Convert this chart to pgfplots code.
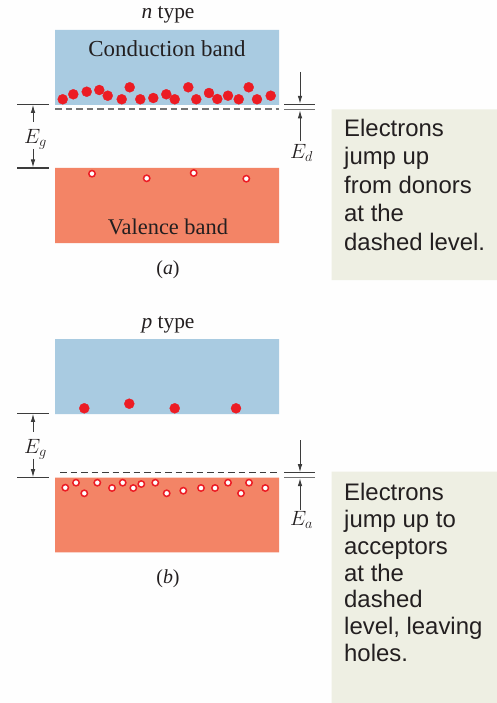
\documentclass[border=0pt]{standalone}
\usepackage{fontspec}
\setmainfont{Liberation Serif}
\newfontfamily\boxfont{Liberation Sans}
\usepackage{pgfplots}
\usepackage{pgfplotstable}
\pgfplotsset{compat=1.18}
\usetikzlibrary{arrows.meta}

\definecolor{condblue}{RGB}{169,203,225}
\definecolor{valred}{RGB}{243,132,102}
\definecolor{dotred}{RGB}{236,28,36}
\definecolor{boxbg}{RGB}{238,239,227}
\definecolor{txt}{RGB}{35,31,32}
\definecolor{linegray}{RGB}{60,60,60}
\definecolor{dashgray}{RGB}{115,115,115}
\definecolor{bg}{RGB}{254,254,254}

% electrons in the conduction band, n type (pixel coords, y down)
\pgfplotstableread{
x y
62.7 99.3
73.3 94.3
86.7 91.7
99.3 90.0
107.7 95.7
121.7 99.3
129.7 87.3
140.3 99.3
153.3 98.0
166.3 94.3
174.7 99.3
188.3 87.3
196.3 99.3
209.0 93.0
217.3 99.0
228.0 95.7
238.7 99.3
248.7 87.3
257.0 99.3
270.7 95.7
}\elecA

\pgfplotstableread{
x y
92.0 173.7
146.7 178.3
193.7 173.0
246.3 178.7
}\holesA

\pgfplotstableread{
x y
84.3 408.3
129.3 403.7
174.7 408.3
236.0 408.3
}\elecB

\pgfplotstableread{
x y
65.3 487.7
76.0 482.7
84.3 493.3
97.3 482.7
112.0 488.0
122.7 482.7
133.3 488.0
141.3 484.0
155.3 482.7
166.7 493.3
183.3 490.7
201.0 488.0
215.0 488.0
228.0 482.7
241.0 493.3
249.0 482.7
265.3 488.0
}\holesB

\tikzset{gaparrow/.style={linegray, line width=0.9bp, -{Latex[length=8bp,width=4.5bp]}}}

\begin{document}
\begin{tikzpicture}
\begin{axis}[
  width=497bp, height=703bp, scale only axis,
  xmin=0, xmax=497, ymin=0, ymax=703, y dir=reverse,
  hide axis, clip=false,
]
% background, keeps the full page
\addplot[draw=none, fill=bg] coordinates {(0,0) (497,0) (497,703) (0,703) (0,0)};

% bands
\addplot[draw=none, fill=condblue] coordinates {(55,30) (279,30) (279,105) (55,105) (55,30)};
\addplot[draw=none, fill=valred] coordinates {(55,168) (279,168) (279,243) (55,243) (55,168)};
\addplot[draw=none, fill=condblue] coordinates {(55,339) (279,339) (279,414) (55,414) (55,339)};
\addplot[draw=none, fill=valred] coordinates {(55,477.7) (279,477.7) (279,552.3) (55,552.3) (55,477.7)};

% text boxes
\addplot[draw=none, fill=boxbg] coordinates {(331.7,109.3) (497,109.3) (497,280) (331.7,280) (331.7,109.3)};
\addplot[draw=none, fill=boxbg] coordinates {(331.7,471.7) (497,471.7) (497,703) (331.7,703) (331.7,471.7)};

% dashed levels
\addplot[dashgray, line width=1.6bp, dash pattern=on 6.5bp off 4bp] coordinates {(55,109.3) (279,109.3)};
\addplot[linegray, line width=1.3bp, dash pattern=on 6.5bp off 4bp] coordinates {(60,472.5) (279,472.5)};

% carriers
\addplot[only marks, mark=*, mark size=5, color=dotred] table {\elecA};
\addplot[only marks, mark=*, mark size=3.2, mark options={fill=white, draw=dotred, line width=1.5bp}] table {\holesA};
\addplot[only marks, mark=*, mark size=5, color=dotred] table {\elecB};
\addplot[only marks, mark=*, mark size=3.2, mark options={fill=white, draw=dotred, line width=1.5bp}] table {\holesB};

% gap markers, left
\addplot[linegray, line width=1.1bp] coordinates {(17,104.3) (49,104.3)};
\addplot[linegray, line width=1.1bp] coordinates {(17,168) (49,168)};
\addplot[gaparrow] coordinates {(33,122) (33,104.8)};
\addplot[gaparrow] coordinates {(33,149) (33,167.5)};
\addplot[linegray, line width=1.1bp] coordinates {(17,413.3) (49,413.3)};
\addplot[linegray, line width=1.1bp] coordinates {(17,477.7) (49,477.7)};
\addplot[gaparrow] coordinates {(33,431.5) (33,413.8)};
\addplot[gaparrow] coordinates {(33,458.5) (33,477.2)};

% level markers, right
\addplot[linegray, line width=1.1bp] coordinates {(284,104.3) (315,104.3)};
\addplot[dashgray, line width=1.1bp] coordinates {(284,109.8) (315,109.8)};
\addplot[gaparrow] coordinates {(300,72) (300,103.8)};
\addplot[gaparrow] coordinates {(300,141.5) (300,110.3)};
\addplot[linegray, line width=1.1bp] coordinates {(284,472.7) (315,472.7)};
\addplot[dashgray, line width=1.1bp] coordinates {(284,477.7) (315,477.7)};
\addplot[gaparrow] coordinates {(300,440) (300,472.2)};
\addplot[gaparrow] coordinates {(300,510) (300,478.2)};

% labels
\node[text=txt, font=\fontsize{21.5}{24}\selectfont] at (168,15) {\textit{n} type};
\node[text=txt, font=\fontsize{23}{26}\selectfont] at (167,48.5) {Conduction band};
\node[text=txt, font=\fontsize{22.5}{26}\selectfont] at (168,227) {Valence band};
\node[text=txt, font=\fontsize{20}{24}\selectfont] at (168,270) {(\textit{a})};
\node[text=txt, font=\fontsize{21.5}{24}\selectfont] at (168,325) {\textit{p} type};
\node[text=txt, font=\fontsize{20}{24}\selectfont] at (168,579) {(\textit{b})};

\node[text=txt, anchor=base west, inner sep=0pt, font=\fontsize{22}{26}\selectfont] at (24,143.3) {$E_g$};
\node[text=txt, anchor=base west, inner sep=0pt, font=\fontsize{22}{26}\selectfont] at (24,453) {$E_g$};
\node[text=txt, anchor=base west, inner sep=0pt, font=\fontsize{22}{26}\selectfont] at (290,158.3) {$E_d$};
\node[text=txt, anchor=base west, inner sep=0pt, font=\fontsize{22}{26}\selectfont] at (290,525) {$E_a$};

% box texts
\node[text=txt, anchor=base west, inner sep=0pt, font=\boxfont\fontsize{24}{28}\selectfont] at (344,136.7) {Electrons};
\node[text=txt, anchor=base west, inner sep=0pt, font=\boxfont\fontsize{24}{28}\selectfont] at (344,165.0) {jump up};
\node[text=txt, anchor=base west, inner sep=0pt, font=\boxfont\fontsize{24}{28}\selectfont] at (344,193.3) {from donors};
\node[text=txt, anchor=base west, inner sep=0pt, font=\boxfont\fontsize{24}{28}\selectfont] at (344,221.7) {at the};
\node[text=txt, anchor=base west, inner sep=0pt, font=\boxfont\fontsize{24}{28}\selectfont] at (344,250.0) {dashed level.};

\node[text=txt, anchor=base west, inner sep=0pt, font=\boxfont\fontsize{24}{28}\selectfont] at (344,500.7) {Electrons};
\node[text=txt, anchor=base west, inner sep=0pt, font=\boxfont\fontsize{24}{28}\selectfont] at (344,527.5) {jump up to};
\node[text=txt, anchor=base west, inner sep=0pt, font=\boxfont\fontsize{24}{28}\selectfont] at (344,554.3) {acceptors};
\node[text=txt, anchor=base west, inner sep=0pt, font=\boxfont\fontsize{24}{28}\selectfont] at (344,581.1) {at the};
\node[text=txt, anchor=base west, inner sep=0pt, font=\boxfont\fontsize{24}{28}\selectfont] at (344,607.9) {dashed};
\node[text=txt, anchor=base west, inner sep=0pt, font=\boxfont\fontsize{24}{28}\selectfont] at (344,634.7) {level, leaving};
\node[text=txt, anchor=base west, inner sep=0pt, font=\boxfont\fontsize{24}{28}\selectfont] at (344,661.5) {holes.};
\end{axis}
\end{tikzpicture}
\end{document}
